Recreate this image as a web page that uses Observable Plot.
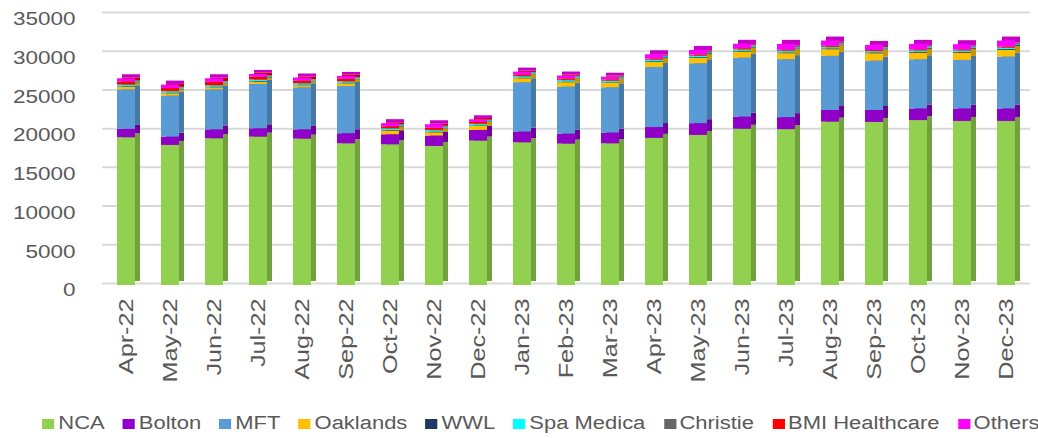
<!DOCTYPE html>
<html><head><meta charset="utf-8">
<script src="https://cdn.jsdelivr.net/npm/d3@7"></script>
<script src="https://cdn.jsdelivr.net/npm/@observablehq/plot@0.6"></script>
<style>
body{margin:0;background:#fff;font-family:"Liberation Sans",Arial,sans-serif;}
#legend{display:flex;justify-content:center;gap:15px;height:30px;align-items:center;font-size:18px;color:#595959;transform:translateX(22px) scaleX(1.22);transform-origin:center;white-space:nowrap;}
#legend span.sw{display:inline-block;width:10px;height:10px;margin-right:3px;}
</style></head>
<body><div id="chart"></div><div id="legend"></div>
<script>
const months = ["Apr-22","May-22","Jun-22","Jul-22","Aug-22","Sep-22","Oct-22","Nov-22","Dec-22","Jan-23","Feb-23","Mar-23","Apr-23","May-23","Jun-23","Jul-23","Aug-23","Sep-23","Oct-23","Nov-23","Dec-23"];
const seriesNames = ["NCA","Bolton","MFT","Oaklands","WWL","Spa Medica","Christie","BMI Healthcare","Others"];
const seriesColors = ["#92d050","#9000c8","#5b9bd5","#ffc000","#1f3864","#00ffff","#666666","#ff0000","#ff00ff"];
const NCA = [19080,18090,18950,19160,18900,18300,18170,17960,18650,18430,18260,18300,19000,19380,20180,20130,21100,21060,21300,21190,21190];
const Bolton = [1080,1070,1150,1080,1200,1300,1300,1340,1380,1380,1290,1380,1400,1520,1570,1550,1500,1540,1500,1610,1610];
const MFT = [5120,5300,5180,5730,5440,6100,0,0,0,6380,6070,5860,7750,7740,7620,7490,7000,6380,6360,6270,6700];
const Oaklands = [320,310,260,300,260,360,470,430,510,510,570,560,650,680,780,770,850,950,840,930,860];
const WWL = [70,70,70,70,70,70,70,70,70,70,70,70,100,100,100,100,110,110,110,110,110];
const SpaMedica = [170,170,160,150,160,150,180,180,170,170,180,170,160,160,150,170,150,150,150,150,150];
const Christie = [60,60,60,60,60,60,60,60,60,60,60,60,60,60,60,60,60,50,50,50,50];
const BMI = [400,380,420,360,330,300,250,280,220,180,160,150,120,120,110,120,130,110,110,100,120];
const Others = [400,430,450,350,380,360,400,440,340,380,390,350,560,600,580,750,670,650,720,690,780];
const yTicks = [0,5000,10000,15000,20000,25000,30000,35000];

const seriesValues = [NCA,Bolton,MFT,Oaklands,WWL,SpaMedica,Christie,BMI,Others];
const colorOf = Object.fromEntries(seriesNames.map((s,i)=>[s,seriesColors[i]]));
const darkOf = Object.fromEntries(seriesNames.map((s,i)=>[s,d3.color(seriesColors[i]).darker(0.7).formatHex()]));
const data = months.flatMap((m,i)=>seriesNames.map((s,j)=>({month:m,series:s,value:seriesValues[j][i]})));

const chart = Plot.plot({
  width:1038, height:408,
  marginLeft:102, marginRight:8, marginTop:14, marginBottom:123,
  style:{fontFamily:"'Liberation Sans',Arial,sans-serif", fontSize:"19px", color:"#595959", background:"#fff"},
  x:{domain:months, paddingInner:0.6, paddingOuter:0.3, label:null},
  y:{domain:[0,35000], label:null},
  marks:[
    Plot.ruleY(yTicks,{stroke:"#d9d9d9", strokeWidth:2, dy:-2}),
    Plot.barY(data,{x:"month", y:"value", fill:d=>darkOf[d.series], dx:5, dy:-4}),
    Plot.barY(data,{x:"month", y:"value", fill:d=>colorOf[d.series]}),
    Plot.axisY(yTicks,{tickSize:0, tickPadding:27, fontSize:18, dy:5, tickFormat:d=>String(d)}),
    Plot.axisX({tickSize:0, tickPadding:13, tickRotate:-90, fontSize:21})
  ]
});
document.getElementById("chart").append(chart);

function num(v){ const n = parseFloat(v); return Number.isFinite(n) ? n : 0; }
function stretch(sel, s){
  chart.querySelectorAll(sel).forEach(t=>{
    const x = num(t.getAttribute("x")), y = num(t.getAttribute("y"));
    const tr = t.getAttribute("transform")||"";
    t.setAttribute("transform", `${tr} translate(${x} ${y}) scale(${s} 1) translate(${-x} ${-y})`);
  });
}
stretch('g[aria-label="y-axis tick label"] text', 1.25);
stretch('g[aria-label="x-axis tick label"] text', 1.2);

const lg = document.getElementById("legend");
seriesNames.forEach((s,i)=>{
  const it = document.createElement("div");
  it.innerHTML = `<span class="sw" style="background:${seriesColors[i]}"></span>${s}`;
  lg.append(it);
});
</script></body></html>
